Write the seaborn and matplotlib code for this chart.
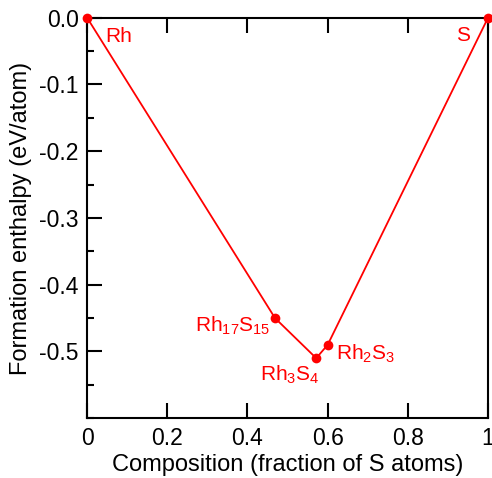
import seaborn as sns
import matplotlib.pyplot as plt
from matplotlib.ticker import MultipleLocator

sns.set_style("white")
plt.rcParams['font.family'] = ['Liberation Sans', 'DejaVu Sans']
plt.rcParams['text.color'] = 'black'
plt.rcParams['axes.labelcolor'] = 'black'
plt.rcParams['xtick.color'] = 'black'
plt.rcParams['ytick.color'] = 'black'

# convex hull points
x_frac = [0.0, 15 / 32, 4 / 7, 0.6, 1.0]
enthalpy = [0.0, -0.45, -0.51, -0.49, 0.0]
names = ['Rh', r'$\mathregular{Rh_{17}S_{15}}$', r'$\mathregular{Rh_{3}S_{4}}$',
         r'$\mathregular{Rh_{2}S_{3}}$', 'S']
label_x = [0.045, 0.457, 0.506, 0.622, 0.938]
label_y = [-0.028, -0.462, -0.535, -0.503, -0.026]
label_ha = ['left', 'right', 'center', 'left', 'center']

fig = plt.figure(figsize=(4.92, 4.78), dpi=100)
ax = fig.add_axes([0.177, 0.125, 0.815, 0.838])

sns.lineplot(x=x_frac, y=enthalpy, color='red', lw=1.3, ax=ax, sort=False,
             marker='o', markersize=7, markeredgewidth=0, clip_on=False, zorder=3)

for xs, ys, nm, ha in zip(label_x, label_y, names, label_ha):
    ax.text(xs, ys, nm, color='red', fontsize=15, ha=ha, va='center')

ax.set_xlim(0, 1)
ax.set_ylim(-0.6, 0)
ax.yaxis.set_minor_locator(MultipleLocator(0.05))
ax.set_xticks([0, 0.2, 0.4, 0.6, 0.8, 1.0])
ax.set_xticklabels(['0', '0.2', '0.4', '0.6', '0.8', '1'])
ax.set_yticks([0.0, -0.1, -0.2, -0.3, -0.4, -0.5])
ax.set_yticklabels(['0.0', '-0.1', '-0.2', '-0.3', '-0.4', '-0.5'])
ax.tick_params(axis='both', which='major', direction='in', length=11, width=1.5,
               labelsize=16.5, color='black', labelcolor='black', pad=6)
ax.tick_params(axis='y', which='minor', direction='in', length=5, width=1.5, left=True)
ax.tick_params(axis='x', top=True, bottom=True)
ax.tick_params(axis='y', left=True, right=False)

for sp in ax.spines.values():
    sp.set_color('black')
    sp.set_linewidth(1.5)

ax.set_xlabel('Composition (fraction of S atoms)', fontsize=17, labelpad=3, color='black')
ax.set_ylabel('Formation enthalpy (eV/atom)', fontsize=17, labelpad=5, color='black')

fig.savefig('out.png', dpi=100)
